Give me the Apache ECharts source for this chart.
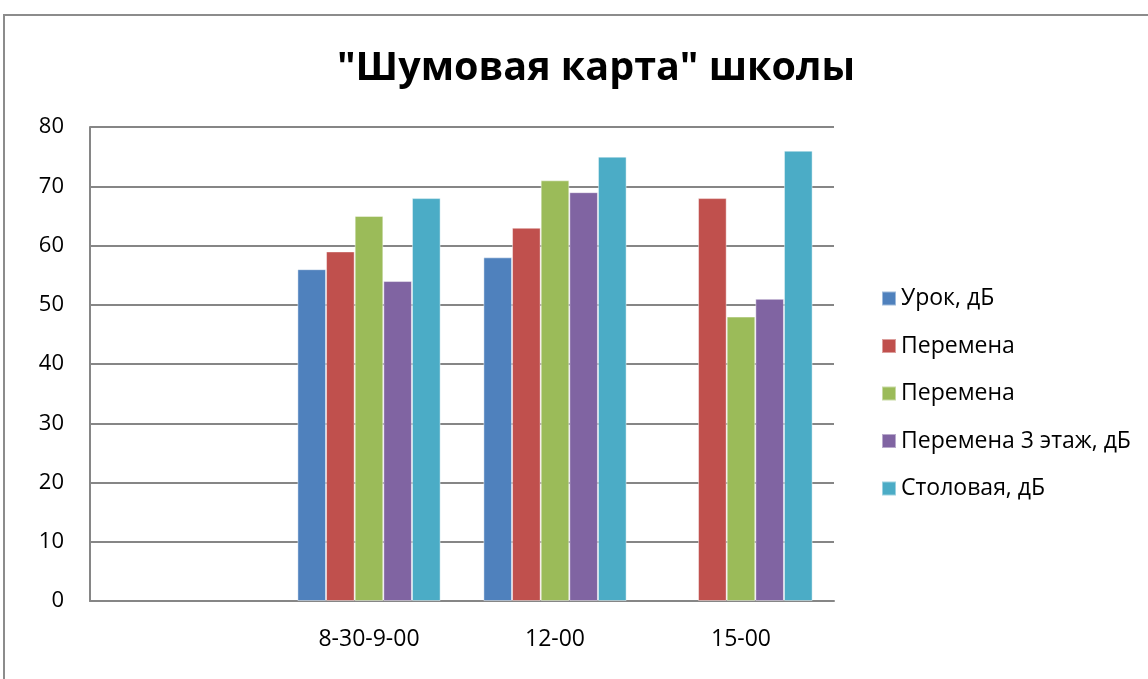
<!DOCTYPE html>
<html>
<head>
<meta charset="utf-8">
<script src="https://cdn.jsdelivr.net/npm/echarts@6/dist/echarts.min.js"></script>
<style>
html,body{margin:0;padding:0;background:#fff;}
#c{width:1148px;height:679px;}
</style>
</head>
<body>
<div id="c"></div>
<script>
const categories = ['', '8-30-9-00', '12-00', '15-00'];
const seriesNames = ['Урок, дБ', 'Перемена', 'Перемена', 'Перемена 3 этаж, дБ', 'Столовая, дБ'];
const urok = ['-', 56, 58, '-'];
const peremena1 = ['-', 59, 63, 68];
const peremena2 = ['-', 65, 71, 48];
const peremena3 = ['-', 54, 69, 51];
const stolovaya = ['-', 68, 75, 76];
const yTicks = { min: 0, max: 80, interval: 10 };
const colors = ['#4F81BD', '#C0504D', '#9BBB59', '#8064A2', '#4BACC6'];

const allData = [urok, peremena1, peremena2, peremena3, stolovaya];
const font = 'Open Sans';

const chart = echarts.init(document.getElementById('c'));
chart.setOption({
  animation: false,
  color: colors,
  graphic: [{
    type: 'rect',
    shape: { x: 4, y: 15, width: 1300, height: 800 },
    style: { fill: 'none', stroke: '#8c8c8c', lineWidth: 2 },
    silent: true
  }],
  title: {
    text: '"Шумовая карта" школы',
    left: 591, top: 44, textAlign: 'center',
    textStyle: { fontFamily: font, fontWeight: 'bold', fontSize: 39.5, color: '#000' }
  },
  legend: {
    orient: 'vertical',
    left: 876, top: 282,
    itemWidth: 14, itemHeight: 14, itemGap: 24.5,
    icon: 'rect',
    textStyle: { fontFamily: font, fontSize: 23, color: '#000', padding: [0, 0, 0, 0] },
    data: seriesNames.map((n, i) => ({ name: n + '\u200b'.repeat(i) }))
  },
  grid: { left: 90, right: 314, top: 127, bottom: 78 },
  xAxis: {
    type: 'category',
    data: categories,
    axisLine: { lineStyle: { color: '#868686', width: 2 } },
    axisTick: { show: false },
    axisLabel: { fontFamily: font, fontSize: 23, color: '#000', margin: 27 }
  },
  yAxis: {
    type: 'value',
    min: yTicks.min, max: yTicks.max, interval: yTicks.interval,
    axisLine: { show: true, lineStyle: { color: '#868686', width: 2 } },
    axisTick: { show: false },
    splitLine: { lineStyle: { color: '#868686', width: 2 } },
    axisLabel: { fontFamily: font, fontSize: 22, color: '#000', margin: 26 }
  },
  series: allData.map((d, i) => ({
    type: 'bar',
    name: seriesNames[i] + '\u200b'.repeat(i),
    data: d,
    barGap: '0%',
    barCategoryGap: '23%',
    itemStyle: { color: colors[i], borderColor: 'rgba(255,255,255,0.45)', borderWidth: 1 }
  }))
});
</script>
</body>
</html>
